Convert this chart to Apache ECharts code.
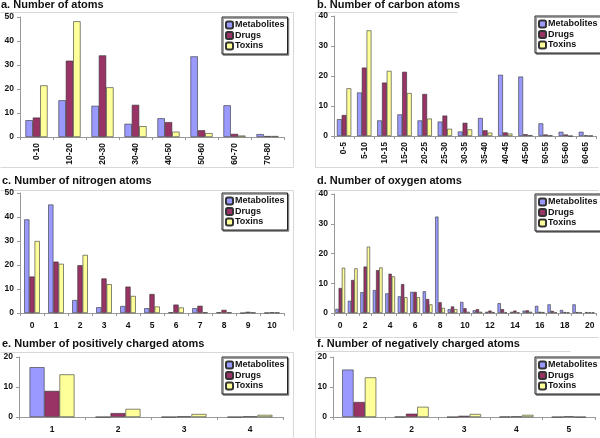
<!DOCTYPE html>
<html><head><meta charset="utf-8">
<script src="https://cdn.jsdelivr.net/npm/echarts@6/dist/echarts.min.js"></script>
<style>html,body{margin:0;padding:0;background:#fff}#c{width:600px;height:438px}</style>
</head><body><div id="c"></div>
<script>
// ---- Data ----
const seriesNames = ['Metabolites', 'Drugs', 'Toxins'];
const titles = ['a. Number of atoms', 'b. Number of carbon atoms', 'c. Number of nitrogen atoms',
  'd. Number of oxygen atoms', 'e. Number of positively charged atoms', 'f. Number of negatively charged atoms'];

const catA = ['0-10','10-20','20-30','30-40','40-50','50-60','60-70','70-80'];
const metA = [7.0, 15.3, 13.0, 5.5, 7.8, 33.6, 13.2, 1.2];
const drugA = [8.1, 31.8, 34.0, 13.4, 6.2, 2.8, 1.3, 0.4];
const toxA = [21.5, 48.2, 20.7, 4.5, 2.2, 1.6, 0.6, 0.4];

const catB = ['0-5','5-10','10-15','15-20','20-25','25-30','30-35','35-40','40-45','45-50','50-55','55-60','60-65'];
const metB = [5.6, 14.5, 5.2, 7.2, 5.2, 4.8, 1.5, 6.0, 20.4, 19.8, 4.2, 1.4, 1.4];
const drugB = [7.0, 22.8, 17.8, 21.4, 14.0, 6.8, 4.4, 1.9, 1.2, 0.6, 0.5, 0.5, 0.2];
const toxB = [15.9, 35.2, 21.7, 14.3, 5.8, 2.4, 2.2, 1.1, 0.8, 0.3, 0.2, 0.0, 0.1];

const catC = ['0','1','2','3','4','5','6','7','8','9','10'];
const metC = [39.0, 45.2, 5.4, 2.4, 2.9, 2.0, 0.3, 2.0, 0.3, 0.0, 0.1];
const drugC = [15.2, 21.4, 19.9, 14.4, 11.0, 7.9, 3.5, 3.0, 1.3, 0.5, 0.3];
const toxC = [30.0, 20.5, 24.2, 12.0, 7.1, 2.7, 2.3, 0.3, 0.3, 0.2, 0.2];

const catD = ['0','1','2','3','4','5','6','7','8','9','10','11','12','13','14','15','16','17','18','19','20'];
const metD = [1.4, 4.1, 7.0, 7.7, 6.6, 5.6, 7.1, 7.3, 32.4, 1.3, 3.7, 0.9, 0.4, 3.3, 0.4, 0.8, 2.4, 2.9, 1.0, 2.9, 0.3];
const drugD = [8.4, 11.1, 15.6, 14.4, 13.2, 9.7, 7.1, 4.7, 3.6, 2.2, 1.6, 1.3, 0.8, 1.3, 0.8, 0.9, 0.4, 0.7, 0.3, 0.3, 0.2];
const toxD = [15.2, 15.0, 22.3, 15.3, 12.3, 5.3, 5.3, 2.9, 1.7, 1.3, 0.4, 0.4, 0.3, 0.2, 0.2, 0.4, 0.3, 0.2, 0.2, 0.2, 0.2];

const catE = ['1','2','3','4'];
const metE = [16.6, 0, 0, 0];
const drugE = [8.7, 1.3, 0.2, 0.2];
const toxE = [14.2, 2.7, 1.0, 0.7];

const catF = ['1','2','3','4','5'];
const metF = [15.8, 0.1, 0, 0.1, 0];
const drugF = [5.0, 1.1, 0.4, 0.2, 0.2];
const toxF = [13.2, 3.4, 1.0, 0.7, 0];

const yMax = [50, 40, 50, 40, 20, 20];
const yStep = [10, 10, 10, 10, 10, 10];

// ---- Layout / style ----
const colors = ['#9999FF', '#993366', '#FFFF99'];
const data = [
  [catA, metA, drugA, toxA], [catB, metB, drugB, toxB], [catC, metC, drugC, toxC],
  [catD, metD, drugD, toxD], [catE, metE, drugE, toxE], [catF, metF, drugF, toxF]
];
const grids = [
  {left: 20, top: 17, width: 264, height: 120},
  {left: 334, top: 16, width: 262, height: 120},
  {left: 20, top: 193, width: 264, height: 120},
  {left: 334, top: 194, width: 262, height: 119},
  {left: 19, top: 357, width: 264, height: 60},
  {left: 333, top: 357, width: 262, height: 60}
];
const titlePos = [[1, -1], [317, -1], [2, 175], [317, 175], [2, 338], [317, 338]];
const legendPos = [[222, 17], [535, 16], [222, 193], [535, 194], [222, 357], [535, 357]];
const catGap = ['33%', '29%', '35%', '22%', '32%', '35%'];
const labelFont = 'Liberation Sans, Arial, sans-serif';

const option = {
  animation: false,
  backgroundColor: '#fff',
  title: titles.map((t, i) => ({
    text: t, left: titlePos[i][0], top: titlePos[i][1], padding: 0,
    textStyle: {fontFamily: labelFont, fontSize: 11, fontWeight: 'bold', color: '#111'}
  })),
  legend: legendPos.map((p, i) => ({
    data: seriesNames, orient: 'vertical', left: p[0], top: p[1],
    itemWidth: 7, itemHeight: 7, itemGap: 0.5, padding: [3, 3, 3, 3],
    backgroundColor: '#fff', borderColor: '#222', borderWidth: 1,
    shadowColor: '#777', shadowBlur: 0, shadowOffsetX: 1.2, shadowOffsetY: 1.2,
    textStyle: {fontFamily: labelFont, fontSize: 9, lineHeight: 10, fontWeight: 'bold', color: '#111', padding: [0, 0, 0, -3]},
    selectedMode: false
  })),
  grid: grids.map(g => Object.assign({containLabel: false}, g)),
  xAxis: data.map((d, i) => ({
    type: 'category', gridIndex: i, data: d[0],
    axisLine: {lineStyle: {color: '#999', width: 1}},
    axisTick: {show: true, length: 3, interval: 0, lineStyle: {color: '#999'}},
    axisLabel: {
      fontFamily: labelFont, fontSize: 8.5, fontWeight: 'bold', color: '#111',
      rotate: i < 2 ? 90 : 0, interval: i === 3 ? 1 : 0, margin: i < 2 ? 6 : 8
    }
  })),
  yAxis: data.map((d, i) => ({
    type: 'value', gridIndex: i, min: 0, max: yMax[i], interval: yStep[i],
    splitLine: {show: false},
    axisLine: {show: true, lineStyle: {color: '#999', width: 1}},
    axisTick: {show: true, length: 3, lineStyle: {color: '#999'}},
    axisLabel: {fontFamily: labelFont, fontSize: 8.5, fontWeight: 'bold', color: '#111', margin: 6}
  })),
  series: [],
  graphic: []
};

data.forEach((d, i) => {
  for (let s = 0; s < 3; s++) {
    option.series.push({
      type: 'bar', name: seriesNames[s], xAxisIndex: i, yAxisIndex: i,
      data: d[s + 1], barGap: '0%', barCategoryGap: catGap[i],
      itemStyle: {color: colors[s], borderColor: '#333', borderWidth: 0.6}
    });
  }
});

// faint panel frames
const frameLines = [
  [0, 12, 293, 12], [293, 12, 293, 167], [0, 167, 293, 167],
  [315, 12, 457, 12], [315, 12, 315, 167], [315, 167, 598, 167],
  [0, 190, 293, 190], [293, 190, 293, 330],
  [315, 190, 598, 190], [315, 190, 315, 337], [315, 337, 598, 337],
  [0, 352, 293, 352], [293, 352, 293, 438],
  [315, 351, 570, 351], [315, 351, 315, 438]
];
frameLines.forEach(l => option.graphic.push({
  type: 'line', silent: true, z: -1,
  shape: {x1: l[0] + 0.5, y1: l[1] + 0.5, x2: l[2] + 0.5, y2: l[3] + 0.5},
  style: {stroke: '#d8d8d8', lineWidth: 1}
}));

const chart = echarts.init(document.getElementById('c'), null, {renderer: 'canvas'});
chart.setOption(option);
</script>
</body></html>
